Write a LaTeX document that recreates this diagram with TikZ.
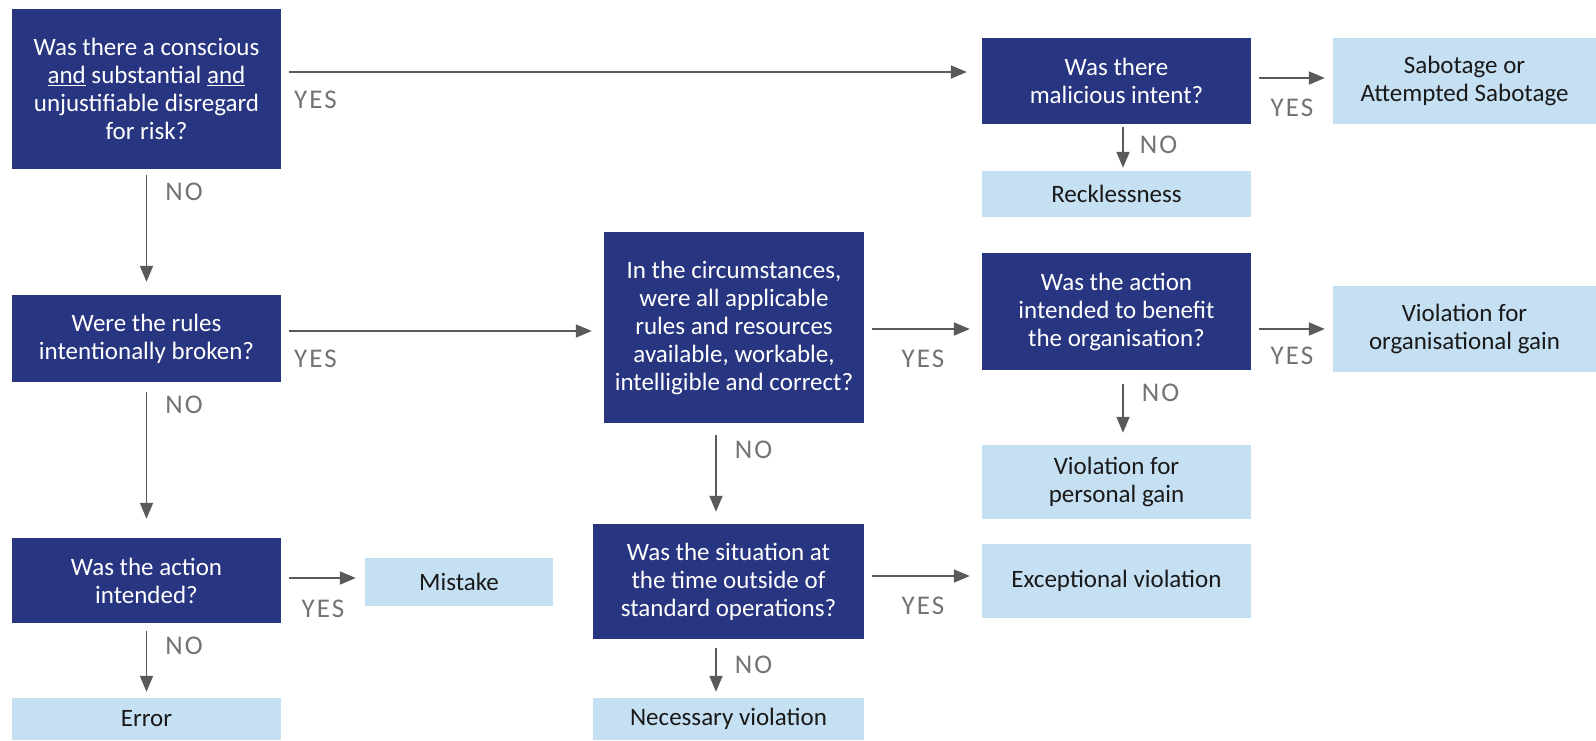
\documentclass[tikz,border=0pt]{standalone}
\usepackage{fontspec}
\setmainfont{Carlito}
\usepackage{xcolor}
\usetikzlibrary{positioning, calc, arrows.meta}
\definecolor{navy}{RGB}{40,53,128}
\definecolor{pale}{RGB}{198,224,243}
\definecolor{arrgray}{RGB}{90,90,90}
\definecolor{lblgray}{RGB}{115,115,115}
\tikzset{
  qbox/.style={rectangle, fill=navy, text=white, align=center, inner sep=0pt,
    font=\fontsize{25}{28}\selectfont},
  abox/.style={rectangle, fill=pale, text=black!90, align=center, inner sep=0pt,
    font=\fontsize{25}{28}\selectfont},
  arr/.style={draw=arrgray, line width=1.8pt, shorten <=8pt, shorten >=10pt,
    -{Triangle[length=16pt,width=13pt]}},
  ylbl/.style={text=lblgray, inner sep=0pt,
    font=\fontsize{27}{30}\selectfont\addfontfeatures{LetterSpace=8}},
  nlbl/.style={text=lblgray, inner sep=0pt,
    font=\fontsize{27}{30}\selectfont\addfontfeatures{LetterSpace=8},
    anchor=north west, xshift=18pt, yshift=-13pt}
}

\begin{document}
\begin{tikzpicture}[x=1pt,y=-1pt]
      \useasboundingbox (0,0) rectangle (1596,740);
      \node[qbox, minimum width=269, minimum height=160] (q1) at (146.5,89)
        {Was there a conscious\\\underline{and} substantial \underline{and}\\unjustifiable disregard\\for risk?};
      \node[qbox, minimum width=269, minimum height=86] (mal) at (1116.5,81) {Was there\\malicious intent?};
      \node[abox, minimum width=263, minimum height=86] (sab) at (1464.5,81) {Sabotage or\\Attempted Sabotage};
      \node[abox, minimum width=269, minimum height=46] (reck) at (1116.5,194) {Recklessness};
      \node[qbox, minimum width=269, minimum height=87] (q2) at (146.5,338.5) {Were the rules\\intentionally broken?};
      \node[qbox, minimum width=260, minimum height=191] (q3) at (734,327.5)
        {In the circumstances,\\were all applicable\\rules and resources\\available, workable,\\intelligible and correct?};
      \node[qbox, minimum width=269, minimum height=117] (q4) at (1116.5,311.5)
        {Was the action\\intended to benefit\\the organisation?};
      \node[abox, minimum width=263, minimum height=86] (org) at (1464.5,329) {Violation for\\organisational gain};
      \node[abox, minimum width=269, minimum height=74] (pers) at (1116.5,482) {Violation for\\personal gain};
      \node[qbox, minimum width=269, minimum height=85] (q5) at (146.5,580.5) {Was the action\\intended?};
      \node[abox, minimum width=188, minimum height=48] (mist) at (459,582) {Mistake};
      \node[abox, minimum width=269, minimum height=42] (err) at (146.5,719) {Error};
      \node[qbox, minimum width=271, minimum height=115] (q6) at (728.5,581.5)
        {Was the situation at\\the time outside of\\standard operations?};
      \node[abox, minimum width=269, minimum height=74] (exc) at (1116.5,581) {Exceptional violation};
      \node[abox, minimum width=271, minimum height=42] (nec) at (728.5,719) {Necessary violation};

      \draw[arr, shorten >=15pt] ([yshift=9pt]q1.east |- mal.west) -- ([yshift=9pt]mal.west)
        node[ylbl, pos=0, anchor=north west, xshift=12pt, yshift=-18pt] {YES};
      \draw[arr, shorten >=8pt] ([yshift=3pt]mal.east |- sab.west) -- ([yshift=3pt]sab.west)
        node[ylbl, midway, anchor=north, yshift=-20pt] {YES};
      \draw[arr, shorten <=6pt, shorten >=13pt] (q1.south) -- (q2.north)
        node[nlbl, pos=0] {NO};
      \draw[arr, shorten <=3pt, shorten >=3pt] ([xshift=6.5pt]mal.south) -- ([xshift=6.5pt]reck.north)
        node[nlbl, pos=0, xshift=-2pt, yshift=2pt] {NO};

      \draw[arr, shorten >=12pt] ([yshift=-3.5pt]q2.east |- q3.west) -- ([yshift=-3.5pt]q3.west)
        node[ylbl, pos=0, anchor=north west, xshift=12pt, yshift=-18pt] {YES};
      \draw[arr, shorten >=12pt] ([yshift=-1.5pt]q3.east) -- ([yshift=-1.5pt]q3.east -| q4.west)
        node[ylbl, midway, anchor=north, yshift=-20pt] {YES};
      \draw[arr, shorten >=8pt] (q4.east |- org.west) -- (org.west)
        node[ylbl, midway, anchor=north, yshift=-17pt] {YES};
      \draw[arr, shorten <=14pt, shorten >=12pt] ([xshift=6.5pt]q4.south) -- ([xshift=6.5pt]pers.north)
        node[nlbl, pos=0] {NO};
      \draw[arr, shorten <=12pt, shorten >=12pt] ([xshift=-12.5pt]q6.north |- q3.south) -- ([xshift=-12.5pt]q6.north)
        node[nlbl, pos=0, yshift=-4pt] {NO};

      \draw[arr, shorten <=10pt, shorten >=19pt] (q2.south) -- (q5.north)
        node[nlbl, pos=0] {NO};
      \draw[arr, shorten >=9pt] ([yshift=4pt]q5.east |- mist.west) -- ([yshift=4pt]mist.west)
        node[ylbl, midway, anchor=north, yshift=-21pt] {YES};
      \draw[arr, shorten <=8pt, shorten >=6pt] (q5.south) -- (err.north)
        node[nlbl, pos=0] {NO};
      \draw[arr, shorten >=12pt] ([yshift=5pt]q6.east |- exc.west) -- ([yshift=5pt]exc.west)
        node[ylbl, midway, anchor=north, yshift=-20pt] {YES};
      \draw[arr, shorten <=9pt, shorten >=6pt] ([xshift=-12.5pt]q6.south) -- ([xshift=-12.5pt]nec.north)
        node[nlbl, pos=0, yshift=-3pt] {NO};
    \end{tikzpicture}
\end{document}
